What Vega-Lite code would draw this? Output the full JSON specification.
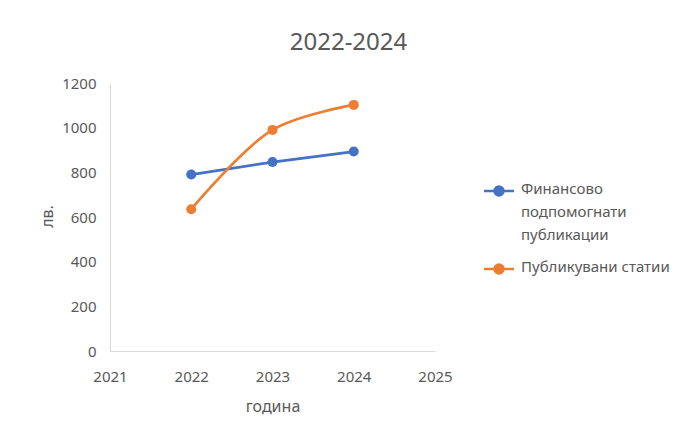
{
  "$schema": "https://vega.github.io/schema/vega-lite/v6.json",
  "width": 325,
  "height": 268,
  "autosize": "none",
  "padding": {"left": 110, "top": 83, "right": 248, "bottom": 86},
  "background": "white",
  "config": {
    "font": "Noto Sans",
    "view": {"stroke": null}
  },
  "title": {
    "text": "2022-2024",
    "fontSize": 24,
    "fontWeight": "normal",
    "color": "#595959",
    "anchor": "middle",
    "dx": 76,
    "offset": 21
  },
  "data": {
    "values": [
      {"year": 2022, "value": 790, "series": "Финансово подпомогнати публикации"},
      {"year": 2023, "value": 846, "series": "Финансово подпомогнати публикации"},
      {"year": 2024, "value": 893, "series": "Финансово подпомогнати публикации"},
      {"year": 2022, "value": 635, "series": "Публикувани статии"},
      {"year": 2023, "value": 990, "series": "Публикувани статии"},
      {"year": 2024, "value": 1102, "series": "Публикувани статии"}
    ]
  },
  "encoding": {
    "x": {
      "field": "year",
      "type": "quantitative",
      "scale": {"domain": [2021, 2025], "nice": false, "zero": false},
      "axis": {
        "title": "година",
        "values": [2021, 2022, 2023, 2024, 2025],
        "format": "d",
        "grid": false,
        "ticks": false,
        "labelFlush": false,
        "labelOverlap": false,
        "domainColor": "#d9d9d9",
        "domainWidth": 1,
        "labelColor": "#595959",
        "labelFontSize": 15,
        "labelPadding": 18,
        "titleColor": "#595959",
        "titleFontSize": 16,
        "titleFontWeight": "normal",
        "titlePadding": 14
      }
    },
    "y": {
      "field": "value",
      "type": "quantitative",
      "scale": {"domain": [0, 1200], "nice": false},
      "axis": {
        "title": "лв.",
        "values": [0, 200, 400, 600, 800, 1000, 1200],
        "format": "d",
        "grid": false,
        "ticks": false,
        "labelFlush": false,
        "domainColor": "#d9d9d9",
        "domainWidth": 1,
        "labelColor": "#595959",
        "labelFontSize": 15,
        "labelPadding": 14,
        "titleColor": "#595959",
        "titleFontSize": 16,
        "titleFontWeight": "normal",
        "titleX": -63,
        "titleY": 133,
        "titleAlign": "center",
        "titleBaseline": "middle",
        "titleAngle": -90
      }
    },
    "color": {
      "field": "series",
      "type": "nominal",
      "scale": {
        "domain": ["Финансово подпомогнати публикации", "Публикувани статии"],
        "range": ["#4472C4", "#ED7D31"]
      },
      "legend": {
        "title": null,
        "orient": "none",
        "legendX": 378,
        "legendY": 97,
        "labelFontSize": 15,
        "labelColor": "#595959",
        "labelExpr": "datum.label == 'Финансово подпомогнати публикации' ? ['Финансово', 'подпомогнати', 'публикации'] : datum.label",
        "labelBaseline": "top",
        "labelOffset": 11,
        "rowPadding": 15,
        "symbolType": "M-1.6,0H-0.48M0.48,0H1.6M-0.48,0A0.48,0.48 0 1,0 0.48,0A0.48,0.48 0 1,0 -0.48,0",
        "symbolSize": 353,
        "symbolStrokeWidth": 2.5,
        "labelLimit": 250,
        "encode": {
          "labels": {"update": {"lineHeight": {"value": 23}, "dy": {"value": -9}}}
        }
      }
    }
  },
  "layer": [
    {
      "transform": [{"filter": "datum.series == 'Финансово подпомогнати публикации'"}],
      "mark": {"type": "line", "strokeWidth": 2.75, "interpolate": "linear"}
    },
    {
      "transform": [{"filter": "datum.series == 'Публикувани статии'"}],
      "mark": {"type": "line", "strokeWidth": 2.75, "interpolate": "catmull-rom"}
    },
    {
      "mark": {"type": "circle", "size": 100, "opacity": 1}
    }
  ]
}
